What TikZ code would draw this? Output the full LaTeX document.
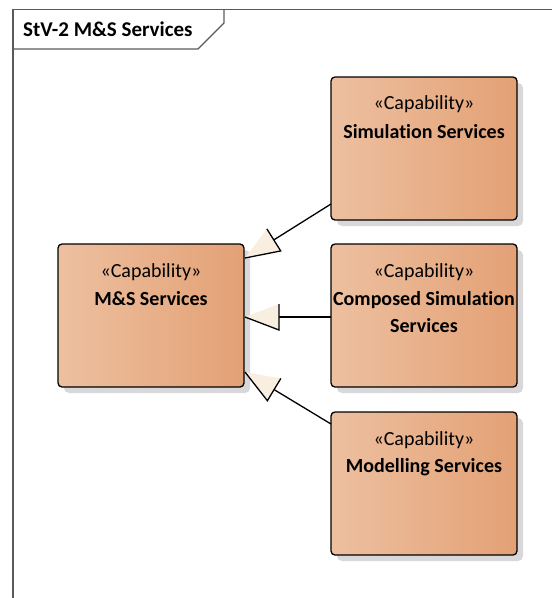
\documentclass[tikz,border=0pt]{standalone}
\usepackage{fontspec}
\setmainfont{Carlito}[Ligatures=NoCommon]
\usetikzlibrary{calc,backgrounds}
\definecolor{boxL}{RGB}{237,192,160}
\definecolor{boxR}{RGB}{227,161,117}
\definecolor{shadowc}{RGB}{216,216,218}
\definecolor{headc}{RGB}{249,239,224}
\definecolor{framec}{RGB}{90,90,90}
\begin{document}
\begin{tikzpicture}[x=1pt,y=-1pt,
  capbox/.style={draw=black, line width=1.3pt, rounded corners=4pt,
    left color=boxL, right color=boxR, shading angle=90,
    minimum width=186pt, minimum height=143pt, inner sep=0pt, outer sep=0pt, anchor=north west},
  stereo/.style={anchor=base, inner sep=0pt, font=\fontsize{20}{27}\selectfont},
  ttl/.style={anchor=base, inner sep=0pt, align=center, font=\fontsize{20}{27}\selectfont\bfseries},
  conn/.style={draw=black, line width=1.3pt},
  frm/.style={draw=framec, line width=1.3pt}
]
\useasboundingbox (0,0) rectangle (552,598);
% frame
\draw[frm] (13,598) -- (13,9.5) -- (552,9.5);
\draw[frm] (13,49) -- (198,49) -- (224,23) -- (224,9.5);
\node[anchor=base west, inner sep=0pt, font=\fontsize{21}{25}\selectfont\bfseries] (title) at (23,36) {StV-2 M\&S Services};

% boxes
\node[capbox] (ms)  at (58,244) {};
\node[capbox] (sim) at (331,77) {};
\node[capbox] (cmp) at (331,244) {};
\node[capbox] (mod) at (331,412) {};

\begin{scope}[on background layer]
  \foreach \b in {ms,sim,cmp,mod}{
    \fill[shadowc, rounded corners=5pt] ($(\b.north west)+(6,6)$) rectangle ($(\b.south east)+(6,6)$);
  }
\end{scope}

% texts
\node[stereo] (msS) at ($(ms.north)+(0,33)$) {«Capability»};
\node[ttl] (msT) at ($(ms.north)+(0,61)$) {M\&S Services};
\node[stereo] (simS) at ($(sim.north)+(0,32)$) {«Capability»};
\node[ttl] (simT) at ($(sim.north)+(0,61)$) {Simulation Services};
\node[stereo] (cmpS) at ($(cmp.north)+(0,33)$) {«Capability»};
\node[ttl] (cmpT) at ($(cmp.north)+(0,61)$) {Composed Simulation};
\node[ttl] (cmpT2) at ($(cmp.north)+(0,88)$) {Services};
\node[stereo] (modS) at ($(mod.north)+(0,33)$) {«Capability»};
\node[ttl] (modT) at ($(mod.north)+(0,60)$) {Modelling Services};

% connectors (generalization, hollow triangle)
\coordinate (a1) at ($(sim.south west)+(0,-16)$);
\coordinate (t1) at ($(ms.north east)+(1,14)$);
\coordinate (a2) at ($(cmp.west)+(0,1.5)$);
\coordinate (t2) at ($(ms.east)+(1,1.5)$);
\coordinate (a3) at ($(mod.north west)+(0,12)$);
\coordinate (t3) at ($(ms.south east)+(1,-15)$);

\foreach \i in {1,2,3}{
  \coordinate (b\i) at ($(t\i)!34pt!(a\i)$);
  \coordinate (p\i) at ($(b\i)!13pt!90:(t\i)$);
  \coordinate (q\i) at ($(b\i)!13pt!-90:(t\i)$);
  \draw[conn] (a\i) -- (b\i);
  \fill[headc] (t\i) -- (p\i) -- (q\i) -- cycle;
  \draw[conn, line join=miter] (q\i) -- (p\i) -- (t\i);
}
\end{tikzpicture}
\end{document}
